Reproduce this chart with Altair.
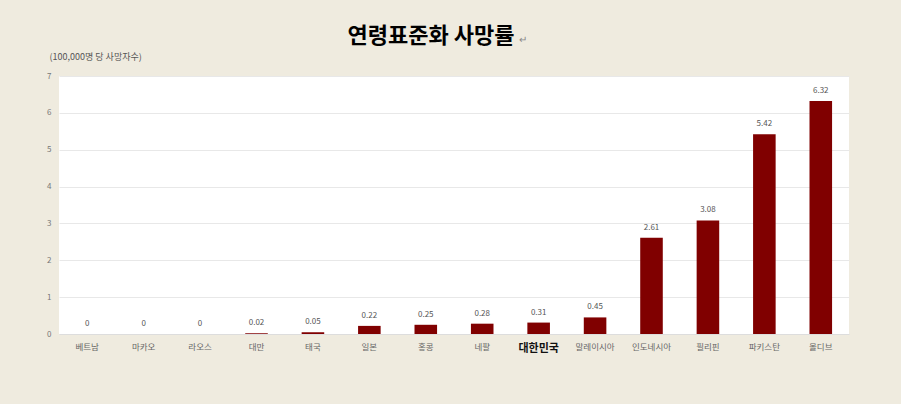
import altair as alt
import pandas as pd

countries = ["베트남", "마카오", "라오스", "대만", "태국", "일본", "홍콩", "네팔",
             "대한민국", "말레이시아", "인도네시아", "필리핀", "파키스탄", "몰디브"]
values = [0, 0, 0, 0.02, 0.05, 0.22, 0.25, 0.28, 0.31, 0.45, 2.61, 3.08, 5.42, 6.32]
labels = ["0", "0", "0", "0.02", "0.05", "0.22", "0.25", "0.28", "0.31", "0.45",
          "2.61", "3.08", "5.42", "6.32"]
y_ticks = [0, 1, 2, 3, 4, 5, 6, 7]

df = pd.DataFrame({"country": countries, "value": values, "label": labels})

FONT = "Noto Sans CJK KR"

x = alt.X("country:N", sort=countries, title=None,
          scale=alt.Scale(paddingInner=0.6, paddingOuter=0.3),
          axis=alt.Axis(labelAngle=0, ticks=False, domain=True, domainColor="#dddddd",
                        labelPadding=8, labelFont=FONT,
                        labelFontSize=alt.condition("datum.value == '대한민국'", alt.value(11), alt.value(8.5)),
                        labelFontWeight=alt.condition("datum.value == '대한민국'", alt.value("bold"), alt.value("normal")),
                        labelColor=alt.condition("datum.value == '대한민국'", alt.value("#111111"), alt.value("#666666"))))

y = alt.Y("value:Q", scale=alt.Scale(domain=[0, 7], nice=False),
          axis=alt.Axis(values=y_ticks, ticks=False, domain=False, labelOverlap=False,
                        grid=True, gridColor="#e8e8e8", labelColor="#777777",
                        labelFontSize=8, labelFont=FONT, labelPadding=8,
                        title="(100,000명 당 사망자수)", titleAngle=0, titleX=-10, titleY=-20,
                        titleAlign="left", titleBaseline="middle", titleFont=FONT,
                        titleFontSize=9, titleFontWeight="normal", titleColor="#555555"))

bars = alt.Chart(df).mark_bar(color="#800000").encode(x=x, y=y)
text = alt.Chart(df).mark_text(baseline="bottom", dy=-6, fontSize=8, font=FONT,
                               color="#555555").encode(x=x, y=y, text="label:N")
arrow = alt.Chart(pd.DataFrame({"t": ["↵"]})).mark_text(
    fontSize=10, color="#888888", align="left", baseline="middle"
).encode(x=alt.value(460), y=alt.value(-36), text="t:N")

chart = alt.layer(bars, text, arrow).properties(
    width=790, height=258,
    background="#EFEBDF",
    padding={"left": 59, "top": 76, "right": 52, "bottom": 70},
    autosize=alt.AutoSizeParams(type="none"),
    title=alt.TitleParams("연령표준화 사망률", font=FONT, fontSize=22, fontWeight="bold",
                          color="#000000", anchor="middle", dx=-23, offset=-13),
).configure_view(fill="white", stroke=None)

chart.save("out.html", embed_options={"renderer": "svg", "actions": False})
